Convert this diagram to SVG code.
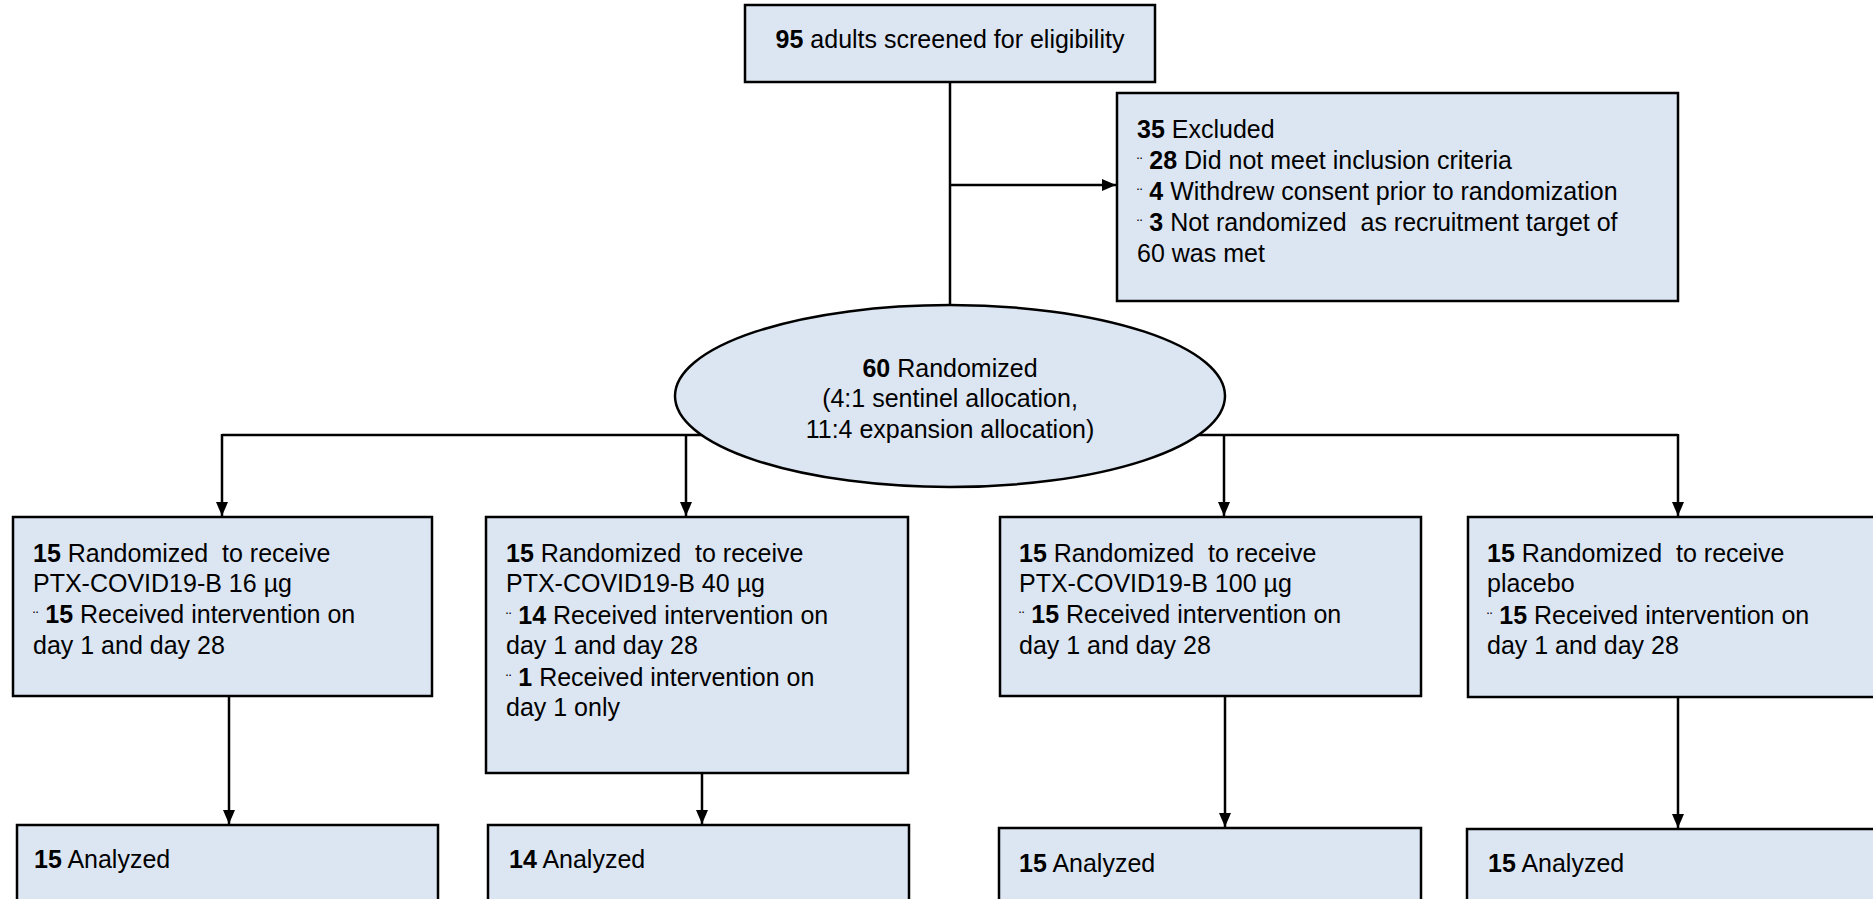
<svg xmlns="http://www.w3.org/2000/svg" width="1873" height="899" viewBox="0 0 1873 899">
<style>
  .box { fill: #DCE6F2; stroke: #000; stroke-width: 2.5; }
  .t { font-family: "Liberation Sans", Arial, sans-serif; font-size: 25px; fill: #000; }
  .b { font-weight: bold; }
  .bl { font-size: 16px; }
  .ln { stroke: #000; stroke-width: 2.5; fill: none; }
</style>
<defs>
  <marker id="ah" viewBox="0 0 14 12" refX="14" refY="6" markerWidth="14" markerHeight="12" markerUnits="userSpaceOnUse" orient="auto">
    <path d="M0,0 L14,6 L0,12 z" fill="#000"/>
  </marker>
</defs>
<rect width="1873" height="899" fill="#fff"/>

<g id="connectors">
  <line class="ln" x1="950" y1="82" x2="950" y2="306"/>
  <line class="ln" x1="950" y1="185" x2="1116" y2="185" marker-end="url(#ah)"/>
  <line class="ln" x1="222" y1="435" x2="1678" y2="435"/>
  <line class="ln" x1="222" y1="434" x2="222" y2="516" marker-end="url(#ah)"/>
  <line class="ln" x1="686" y1="434" x2="686" y2="516" marker-end="url(#ah)"/>
  <line class="ln" x1="1224" y1="434" x2="1224" y2="516" marker-end="url(#ah)"/>
  <line class="ln" x1="1678" y1="434" x2="1678" y2="516" marker-end="url(#ah)"/>
  <line class="ln" x1="229" y1="696" x2="229" y2="824" marker-end="url(#ah)"/>
  <line class="ln" x1="702" y1="773" x2="702" y2="824" marker-end="url(#ah)"/>
  <line class="ln" x1="1225" y1="696" x2="1225" y2="827" marker-end="url(#ah)"/>
  <line class="ln" x1="1678" y1="697" x2="1678" y2="828" marker-end="url(#ah)"/>
</g>

<g id="screened">
  <rect class="box" x="745" y="5" width="410" height="77"/>
  <text class="t" x="950" y="48" text-anchor="middle"><tspan class="b">95</tspan> adults screened for eligibility</text>
</g>

<g id="excluded">
  <rect class="box" x="1117" y="93" width="561" height="208"/>
  <text class="t" x="1137" y="138"><tspan class="b">35</tspan> Excluded</text>
  <text class="t" x="1137" y="169"><tspan class="bl">¨</tspan> <tspan class="b">28</tspan> Did not meet inclusion criteria</text>
  <text class="t" x="1137" y="200"><tspan class="bl">¨</tspan> <tspan class="b">4</tspan> Withdrew consent prior to randomization</text>
  <text class="t" x="1137" y="231" xml:space="preserve"><tspan class="bl">¨</tspan> <tspan class="b">3</tspan> Not randomized  as recruitment target of</text>
  <text class="t" x="1137" y="262">60 was met</text>
</g>

<g id="randomized">
  <ellipse class="box" cx="950" cy="396" rx="275" ry="91"/>
  <text class="t" x="950" y="377" text-anchor="middle"><tspan class="b">60</tspan> Randomized</text>
  <text class="t" x="950" y="407" text-anchor="middle">(4:1 sentinel allocation,</text>
  <text class="t" x="950" y="438" text-anchor="middle">11:4 expansion allocation)</text>
</g>

<g id="arm16">
  <rect class="box" x="13" y="517" width="419" height="179"/>
  <text class="t" x="33" y="562" xml:space="preserve"><tspan class="b">15</tspan> Randomized  to receive</text>
  <text class="t" x="33" y="592">PTX-COVID19-B 16 µg</text>
  <text class="t" x="33" y="623"><tspan class="bl">¨</tspan> <tspan class="b">15</tspan> Received intervention on</text>
  <text class="t" x="33" y="654">day 1 and day 28</text>
</g>

<g id="arm40">
  <rect class="box" x="486" y="517" width="422" height="256"/>
  <text class="t" x="506" y="562" xml:space="preserve"><tspan class="b">15</tspan> Randomized  to receive</text>
  <text class="t" x="506" y="592">PTX-COVID19-B 40 µg</text>
  <text class="t" x="506" y="624"><tspan class="bl">¨</tspan> <tspan class="b">14</tspan> Received intervention on</text>
  <text class="t" x="506" y="654">day 1 and day 28</text>
  <text class="t" x="506" y="686"><tspan class="bl">¨</tspan> <tspan class="b">1</tspan> Received intervention on</text>
  <text class="t" x="506" y="716">day 1 only</text>
</g>

<g id="arm100">
  <rect class="box" x="1000" y="517" width="421" height="179"/>
  <text class="t" x="1019" y="562" xml:space="preserve"><tspan class="b">15</tspan> Randomized  to receive</text>
  <text class="t" x="1019" y="592">PTX-COVID19-B 100 µg</text>
  <text class="t" x="1019" y="623"><tspan class="bl">¨</tspan> <tspan class="b">15</tspan> Received intervention on</text>
  <text class="t" x="1019" y="654">day 1 and day 28</text>
</g>

<g id="armplacebo">
  <rect class="box" x="1468" y="517" width="422" height="180"/>
  <text class="t" x="1487" y="562" xml:space="preserve"><tspan class="b">15</tspan> Randomized  to receive</text>
  <text class="t" x="1487" y="592">placebo</text>
  <text class="t" x="1487" y="624"><tspan class="bl">¨</tspan> <tspan class="b">15</tspan> Received intervention on</text>
  <text class="t" x="1487" y="654">day 1 and day 28</text>
</g>

<g id="analyzed16">
  <rect class="box" x="17" y="825" width="421" height="90"/>
  <text class="t" x="34" y="868"><tspan class="b">15</tspan> Analyzed</text>
</g>
<g id="analyzed40">
  <rect class="box" x="488" y="825" width="421" height="90"/>
  <text class="t" x="509" y="868"><tspan class="b">14</tspan> Analyzed</text>
</g>
<g id="analyzed100">
  <rect class="box" x="999" y="828" width="422" height="90"/>
  <text class="t" x="1019" y="872"><tspan class="b">15</tspan> Analyzed</text>
</g>
<g id="analyzedplacebo">
  <rect class="box" x="1467" y="829" width="423" height="90"/>
  <text class="t" x="1488" y="872"><tspan class="b">15</tspan> Analyzed</text>
</g>
</svg>
